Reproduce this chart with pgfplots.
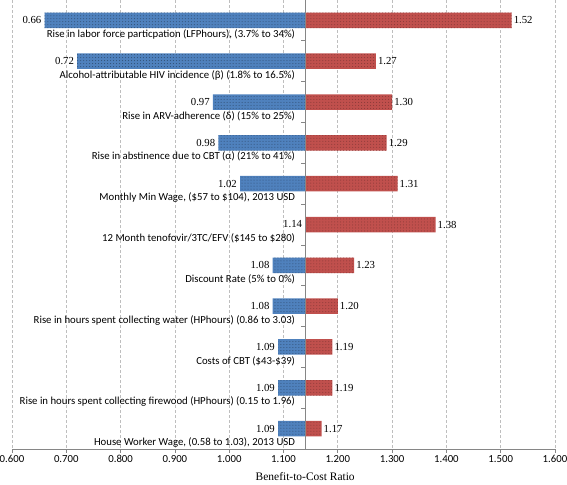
\documentclass[border=0pt]{standalone}
\usepackage{pgfplots}
\pgfplotsset{compat=1.18}
\usetikzlibrary{patterns}
\usepackage{fontspec}
\setmainfont{Liberation Serif}
\newfontfamily\carl{Carlito}
\definecolor{bblue}{HTML}{4F81BD}
\definecolor{bred}{HTML}{C0504D}
\definecolor{axgray}{HTML}{868686}
\definecolor{gridgray}{HTML}{BEBEBE}
\begin{document}
\begin{tikzpicture}
\begin{axis}[
  scale only axis,
  width=543bp, height=449bp,
  at={(0,0)}, anchor=south west,
  x coord trafo/.code={\pgfmathparse{#1-1.14}},
  x coord inv trafo/.code={\pgfmathparse{#1+1.14}},
  xmin=0.6, xmax=1.6,
  ymin=0.5, ymax=11.5,
  y dir=reverse,
  axis x line*=bottom,
  axis y line=none,
  x axis line style={axgray, line width=0.8pt, -},
  xtick={0.6,0.7,0.8,0.9,1.0,1.1,1.2,1.3,1.4,1.5,1.6},
  xticklabels={0.600,0.700,0.800,0.900,1.000,1.100,1.200,1.300,1.400,1.500,1.600},
  xticklabel style={font=\carl\fontsize{10.8}{12}\selectfont, black, yshift=1bp},
  xtick align=outside,
  major tick length=3.5bp,
  tick style={axgray, line width=0.8pt},
  ytick=\empty,
  xmajorgrids,
  grid style={gridgray, dash pattern=on 3bp off 2bp, line width=0.8pt},
  xbar, bar width=15.5bp, bar shift=0pt,
  clip=false,
]
\addplot[fill=bblue, draw=none, postaction={pattern=dots, pattern color=bblue!60!black},
  point meta=explicit symbolic,
  nodes near coords,
  every node near coord/.append style={anchor=east, font=\fontsize{10.8}{12}\selectfont, black, inner sep=3bp}]
  coordinates {
  (0.66,1) [0.66]
  (0.72,2) [0.72]
  (0.97,3) [0.97]
  (0.98,4) [0.98]
  (1.02,5) [1.02]
  (1.14,6) [1.14]
  (1.08,7) [1.08]
  (1.08,8) [1.08]
  (1.09,9) [1.09]
  (1.09,10) [1.09]
  (1.09,11) [1.09]
};
\addplot[fill=bred, draw=none, postaction={pattern=dots, pattern color=bred!70!black},
  point meta=explicit symbolic,
  nodes near coords,
  every node near coord/.append style={anchor=west, font=\fontsize{10.8}{12}\selectfont, black, inner sep=2bp}]
  coordinates {
  (1.52,1) [1.52]
  (1.27,2) [1.27]
  (1.30,3) [1.30]
  (1.29,4) [1.29]
  (1.31,5) [1.31]
  (1.38,6) [1.38]
  (1.23,7) [1.23]
  (1.20,8) [1.20]
  (1.19,9) [1.19]
  (1.19,10) [1.19]
  (1.17,11) [1.17]
};
\draw[axgray, line width=0.8pt] (axis cs:1.14,0.5) -- (axis cs:1.14,11.5);
\pgfplotsinvokeforeach{1.5,2.5,3.5,4.5,5.5,6.5,7.5,8.5,9.5,10.5}{
  \draw[axgray, line width=0.8pt] (axis cs:1.14,#1) -- ([xshift=-4.5bp]axis cs:1.14,#1);
}
\begin{scope}[every node/.style={anchor=east, inner sep=0pt, xshift=-10bp, font=\carl\fontsize{10.8}{12}\selectfont}]
\node at (axis cs:1.14,1.34) {Rise in labor force particpation (LFPhours), (3.7\% to 34\%)};
\node at (axis cs:1.14,2.34) {Alcohol-attributable HIV incidence (β) (1.8\% to 16.5\%)};
\node at (axis cs:1.14,3.34) {Rise in ARV-adherence (δ) (15\% to 25\%)};
\node at (axis cs:1.14,4.34) {Rise in abstinence due to CBT (α) (21\% to 41\%)};
\node at (axis cs:1.14,5.34) {Monthly Min Wage, (\$57 to \$104), 2013 USD};
\node at (axis cs:1.14,6.34) {12 Month tenofovir/3TC/EFV (\$145 to \$280)};
\node at (axis cs:1.14,7.34) {Discount Rate (5\% to 0\%)};
\node at (axis cs:1.14,8.34) {Rise in hours spent collecting water (HPhours) (0.86 to 3.03)};
\node at (axis cs:1.14,9.34) {Costs of CBT (\$43-\$39)};
\node at (axis cs:1.14,10.34) {Rise in hours spent collecting firewood (HPhours) (0.15 to 1.96)};
\node at (axis cs:1.14,11.34) {House Worker Wage, (0.58 to 1.03), 2013 USD};
\end{scope}
\node[anchor=center, font=\fontsize{11.5}{13}\selectfont] at ([yshift=-28bp]axis cs:1.14,11.5) {Benefit-to-Cost Ratio};
\end{axis}
\pgfresetboundingbox
\useasboundingbox (-12bp,-36bp) rectangle (555bp,449bp);
\end{tikzpicture}
\end{document}
